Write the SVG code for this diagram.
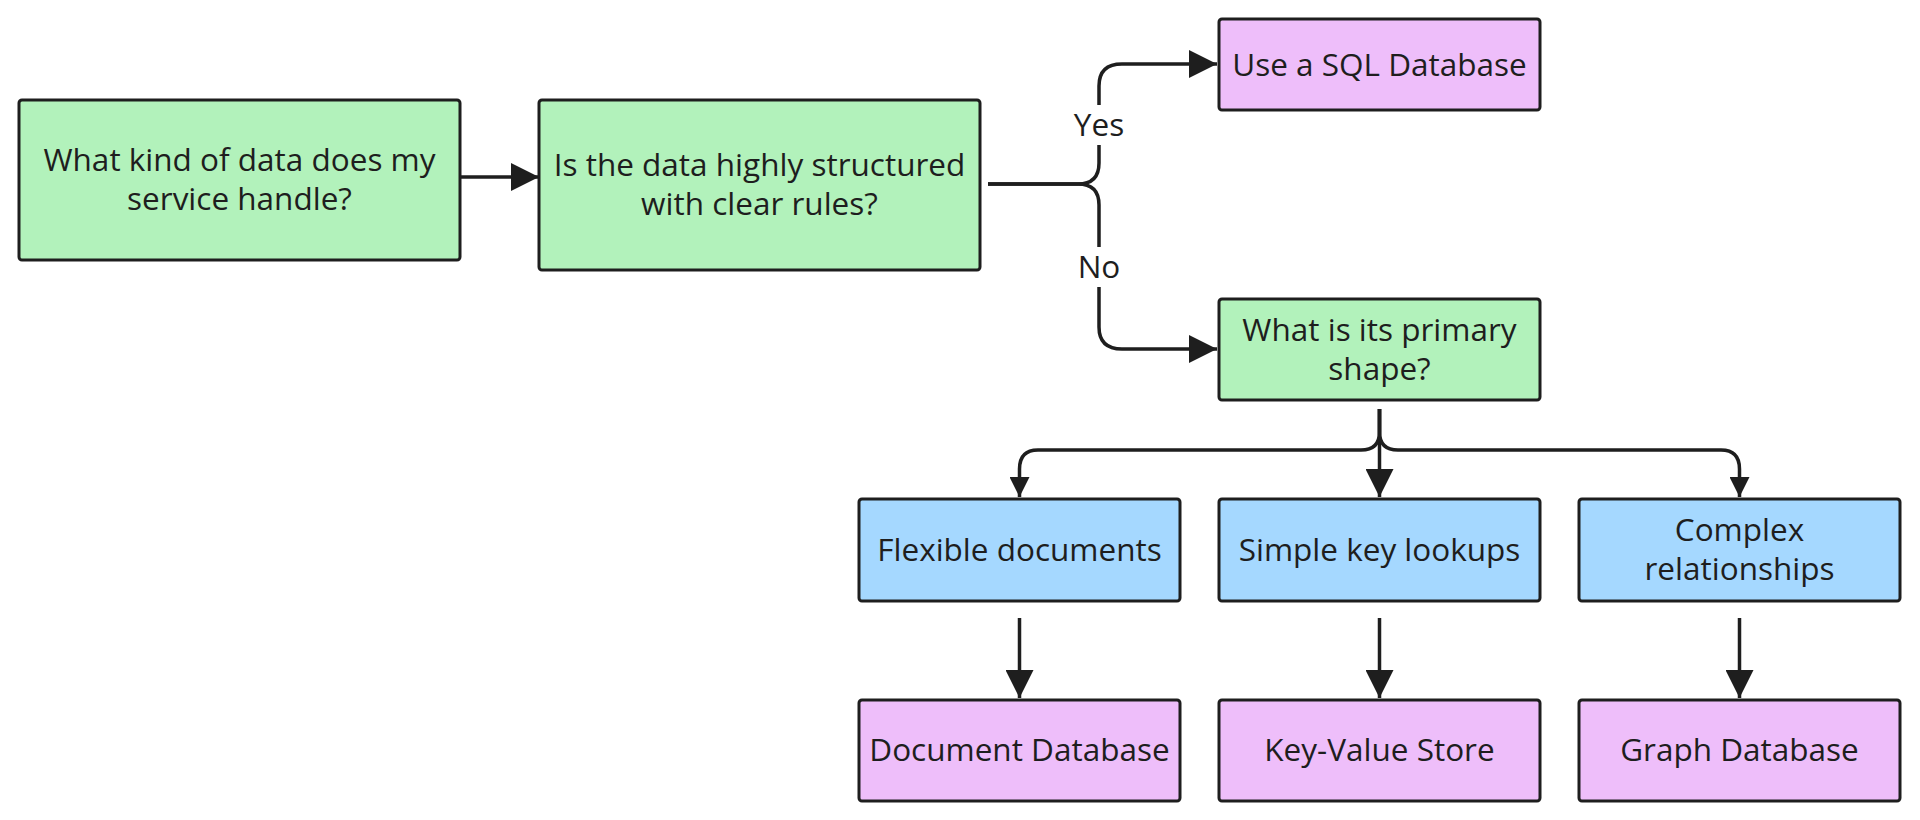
<svg xmlns="http://www.w3.org/2000/svg" width="1920" height="820" viewBox="0 0 1920 820">
<style>
.box{stroke:#1e1e1e;stroke-width:3;}
.green{fill:#b2f2bb;}
.purple{fill:#eebefa;}
.blue{fill:#a5d8ff;}
.t{font-family:"Open Sans","Noto Sans",sans-serif;font-size:31.5px;fill:#1e1e1e;text-anchor:middle;}
.edge{fill:none;stroke:#1e1e1e;stroke-width:3.5;}
.big{marker-end:url(#arrowBig);}
.small{marker-end:url(#arrowSmall);}
.lbg{fill:#ffffff;}
</style>
<defs>
<marker id="arrowBig" markerUnits="userSpaceOnUse" viewBox="0 0 10 10" refX="10" refY="5" markerWidth="31" markerHeight="28" orient="auto">
<path d="M0,0 L10,5 L0,10 z" fill="#1e1e1e"/>
</marker>
<marker id="arrowSmall" markerUnits="userSpaceOnUse" viewBox="0 0 10 10" refX="10" refY="5" markerWidth="21" markerHeight="20" orient="auto">
<path d="M0,0 L10,5 L0,10 z" fill="#1e1e1e"/>
</marker>
</defs>
<rect width="1920" height="820" fill="#ffffff"/>
<g id="connectors">
<path class="edge big" d="M460,177 L539,177"/>
<path class="edge big" d="M988,184 L1078,184 Q1099,184 1099,163 L1099,86 Q1099,64 1122,64 L1217,64"/>
<path class="edge big" d="M988,184 L1078,184 Q1099,184 1099,205 L1099,327 Q1099,349 1122,349 L1217,349"/>
<path class="edge big" d="M1379.5,409 L1379.5,497"/>
<path class="edge small" d="M1379.5,409 L1379.5,432 Q1379.5,450 1361,450 L1038,450 Q1019.5,450 1019.5,469 L1019.5,497"/>
<path class="edge small" d="M1379.5,409 L1379.5,432 Q1379.5,450 1398,450 L1721,450 Q1739.5,450 1739.5,469 L1739.5,497"/>
<path class="edge big" d="M1019.5,618 L1019.5,698"/>
<path class="edge big" d="M1379.5,618 L1379.5,698"/>
<path class="edge big" d="M1739.5,618 L1739.5,698"/>
<g id="label-yes">
<rect class="lbg" x="1070" y="105" width="59" height="40"/>
<text class="t" x="1099" y="136">Yes</text>
</g>
<g id="label-no">
<rect class="lbg" x="1075" y="247" width="49" height="40"/>
<text class="t" x="1099" y="278">No</text>
</g>
</g>
<g id="nodeA">
<rect class="box green" x="19" y="100" width="441" height="160" rx="3"/>
<text class="t" x="239.5" y="171">What kind of data does my</text>
<text class="t" x="239.5" y="210">service handle?</text>
</g>
<g id="nodeB">
<rect class="box green" x="539" y="100" width="441" height="170" rx="3"/>
<text class="t" x="759.5" y="176">Is the data highly structured</text>
<text class="t" x="759.5" y="215">with clear rules?</text>
</g>
<g id="nodeSQL">
<rect class="box purple" x="1219" y="19" width="321" height="91" rx="3"/>
<text class="t" x="1379.5" y="75.5">Use a SQL Database</text>
</g>
<g id="nodeD">
<rect class="box green" x="1219" y="299" width="321" height="101" rx="3"/>
<text class="t" x="1379.5" y="341">What is its primary</text>
<text class="t" x="1379.5" y="380">shape?</text>
</g>
<g id="nodeFlex">
<rect class="box blue" x="859" y="499" width="321" height="102" rx="3"/>
<text class="t" x="1019.5" y="561">Flexible documents</text>
</g>
<g id="nodeSimple">
<rect class="box blue" x="1219" y="499" width="321" height="102" rx="3"/>
<text class="t" x="1379.5" y="561">Simple key lookups</text>
</g>
<g id="nodeComplex">
<rect class="box blue" x="1579" y="499" width="321" height="102" rx="3"/>
<text class="t" x="1739.5" y="541">Complex</text>
<text class="t" x="1739.5" y="580">relationships</text>
</g>
<g id="nodeDoc">
<rect class="box purple" x="859" y="700" width="321" height="101" rx="3"/>
<text class="t" x="1019.5" y="761">Document Database</text>
</g>
<g id="nodeKV">
<rect class="box purple" x="1219" y="700" width="321" height="101" rx="3"/>
<text class="t" x="1379.5" y="761">Key-Value Store</text>
</g>
<g id="nodeGraph">
<rect class="box purple" x="1579" y="700" width="321" height="101" rx="3"/>
<text class="t" x="1739.5" y="761">Graph Database</text>
</g>
</svg>
